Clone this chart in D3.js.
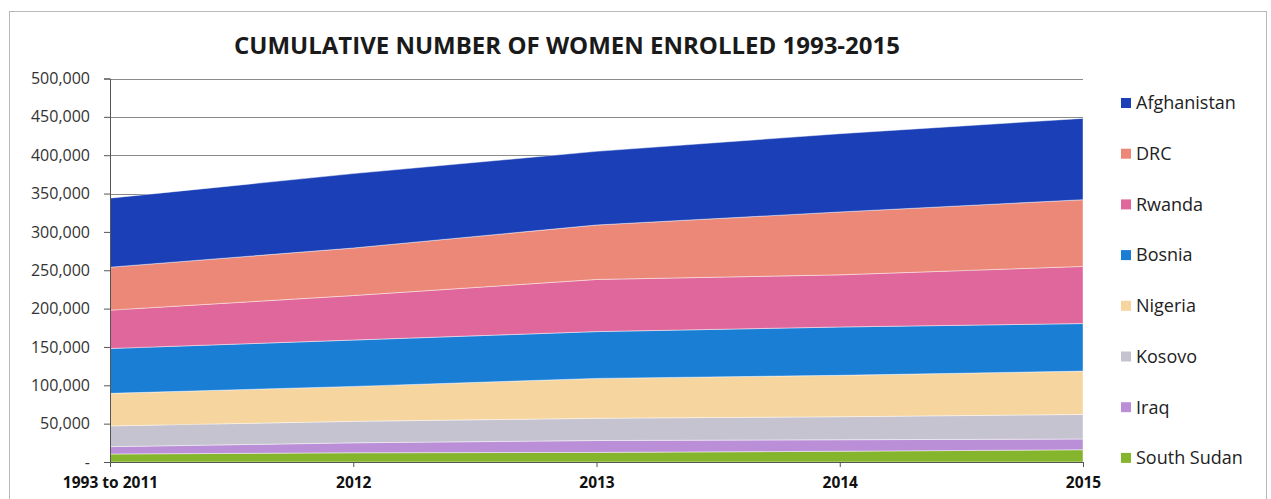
<!DOCTYPE html>
<html>
<head>
<meta charset="utf-8">
<script src="https://cdn.jsdelivr.net/npm/d3@7"></script>
<style>
  html, body { margin: 0; padding: 0; background: #fff; }
  svg { display: block; font-family: "Open Sans", "Noto Sans", sans-serif; }
</style>
</head>
<body>
<svg id="chart" width="1271" height="499"></svg>
<script>
// Enrollment by year (cumulative), one value per country per period
const years = ["1993 to 2011", "2012", "2013", "2014", "2015"];
const countries = ["South Sudan", "Iraq", "Kosovo", "Nigeria", "Bosnia", "Rwanda", "DRC", "Afghanistan"];
const southSudan  = [10400, 12000, 12500, 14000, 16000];
const iraq        = [9600, 13000, 15500, 15000, 14000];
const kosovo      = [27000, 28000, 29000, 30000, 32000];
const nigeria     = [42500, 45500, 52000, 54000, 56500];
const bosnia      = [58500, 60500, 61000, 63000, 62000];
const rwanda      = [50000, 58000, 68000, 68000, 74500];
const drc         = [56000, 62000, 71000, 82000, 87000];
const afghanistan = [90000, 97000, 96000, 102000, 106000];
const yTicks = [0, 50000, 100000, 150000, 200000, 250000, 300000, 350000, 400000, 450000, 500000];
const legendOrder = ["Afghanistan", "DRC", "Rwanda", "Bosnia", "Nigeria", "Kosovo", "Iraq", "South Sudan"];
const colors = {
  "Afghanistan": "#1b3fb6",
  "DRC": "#ec8877",
  "Rwanda": "#e0679b",
  "Bosnia": "#1b7ed5",
  "Nigeria": "#f6d59e",
  "Kosovo": "#c4c3cf",
  "Iraq": "#bb8fd8",
  "South Sudan": "#85b52d"
};

const seriesValues = {
  "South Sudan": southSudan, "Iraq": iraq, "Kosovo": kosovo, "Nigeria": nigeria,
  "Bosnia": bosnia, "Rwanda": rwanda, "DRC": drc, "Afghanistan": afghanistan
};
const table = years.map((yr, i) => {
  const row = { year: yr };
  countries.forEach(c => row[c] = seriesValues[c][i]);
  return row;
});

const svg = d3.select("#chart");
const plotLeft = 110, plotRight = 1083, plotTop = 78.5, plotBottom = 462;

// outer chart frame
svg.append("rect")
  .attr("x", 9.5).attr("y", 11.5).attr("width", 1257).attr("height", 500)
  .attr("fill", "none").attr("stroke", "#b8b8b8").attr("stroke-width", 1);

svg.append("text")
  .attr("x", 567).attr("y", 54)
  .attr("text-anchor", "middle")
  .attr("font-size", 24).attr("font-weight", 700).attr("fill", "#1a1a1a")
  .text("CUMULATIVE NUMBER OF WOMEN ENROLLED 1993-2015");

const x = d3.scalePoint().domain(years).range([plotLeft, plotRight]);
const y = d3.scaleLinear().domain([0, 500000]).range([plotBottom, plotTop]);

// horizontal gridlines
svg.append("g").selectAll("line").data(yTicks.filter(d => d > 0)).join("line")
  .attr("x1", plotLeft).attr("x2", plotRight)
  .attr("y1", d => Math.round(y(d)) + 0.5).attr("y2", d => Math.round(y(d)) + 0.5)
  .attr("stroke", "#8a8a8a").attr("stroke-width", 1);

const stack = d3.stack().keys(countries);
const layers = stack(table);
const area = d3.area()
  .x(d => x(d.data.year))
  .y0(d => y(d[0]))
  .y1(d => y(d[1]));

svg.append("g").selectAll("path").data(layers).join("path")
  .attr("d", area)
  .attr("fill", d => colors[d.key])
  .attr("stroke", "#ffffff").attr("stroke-opacity", 0.55).attr("stroke-width", 0.8);

// y axis
const yAxis = d3.axisLeft(y).tickValues(yTicks).tickSize(6).tickPadding(14)
  .tickFormat(d => d === 0 ? "-" : d3.format(",")(d));
const gy = svg.append("g").attr("transform", `translate(${plotLeft},0)`).call(yAxis);
gy.select(".domain").attr("stroke", "#555");
gy.selectAll(".tick line").attr("stroke", "#555");
gy.selectAll(".tick text").attr("font-size", 16).attr("fill", "#333")
  .attr("font-family", "'Open Sans', sans-serif");

// x axis
const xAxis = d3.axisBottom(x).tickSize(5).tickPadding(10);
const gx = svg.append("g").attr("transform", `translate(0,${plotBottom})`).call(xAxis);
gx.select(".domain").attr("stroke", "#555");
gx.selectAll(".tick line").attr("stroke", "#555");
gx.selectAll(".tick text").attr("font-size", 15.5).attr("font-weight", 700).attr("fill", "#111")
  .attr("font-family", "'Open Sans', sans-serif");

// legend
const legend = svg.append("g").selectAll("g").data(legendOrder).join("g")
  .attr("transform", (d, i) => `translate(1121,${103 + i * 50.7})`);
legend.append("rect")
  .attr("x", 0).attr("y", -5).attr("width", 10).attr("height", 10)
  .attr("fill", d => colors[d]);
legend.append("text")
  .attr("x", 15).attr("y", 0).attr("dy", "0.35em")
  .attr("font-size", 18).attr("fill", "#222")
  .text(d => d);
</script>
</body>
</html>
